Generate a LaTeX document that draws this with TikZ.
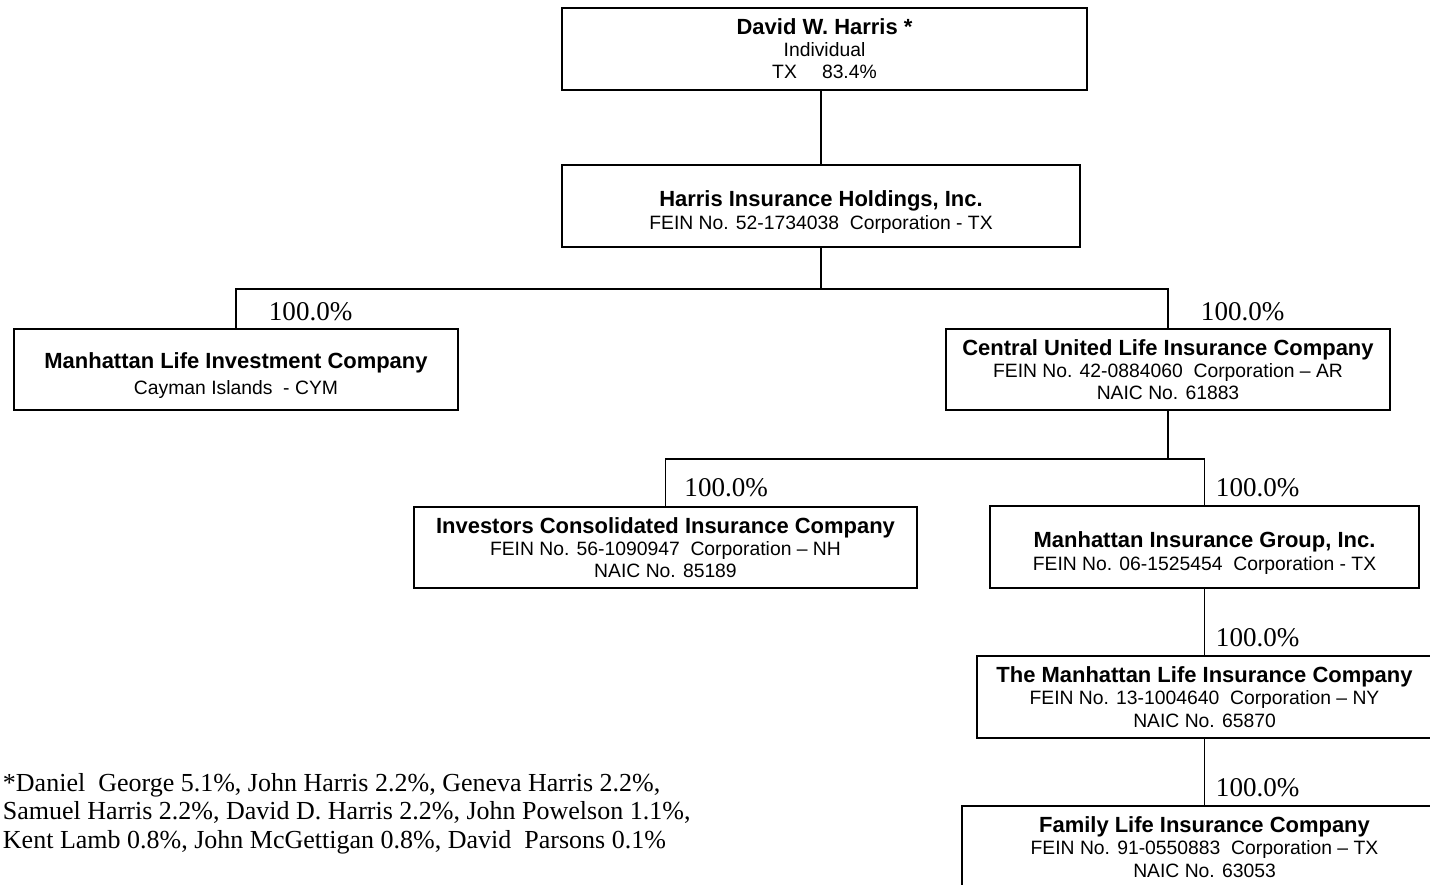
\documentclass[tikz,border=0pt]{standalone}
\usepackage{fontspec}
\setmainfont{Liberation Serif}
\setsansfont{Liberation Sans}
\usetikzlibrary{positioning}
\tikzset{
	co/.style={draw, fill=white, inner sep=0pt, align=center, minimum height=1.63cm,
		font=\sffamily\fontsize{11}{12.6}\selectfont},
	pct/.style={font=\fontsize{15.4}{15.4}\selectfont, inner sep=0pt, anchor=south west},
}
\newcommand{\nm}[1]{{\bfseries\fontsize{12.5}{12.6}\selectfont #1}}
\newcommand{\dn}{\rule{0pt}{16pt}}
\begin{document}
\begin{tikzpicture}[x=0.02cm, y=-0.02cm, line width=1.1pt]
					\useasboundingbox (0,0) rectangle (1430,885);
					\clip (0,0) rectangle (1430,885);
					% companies
					\node[co, minimum width=10.5cm] (david) at (824.5,49) {\nm{David W. Harris *}\\Individual\\TX\hspace{1.3em}83.4\%};
					\node[co, minimum width=10.36cm] (hold) at (821,206) {\dn\nm{Harris Insurance Holdings, Inc.}\\FEIN No. 52-1734038\ \ Corporation - TX};
					\node[co, minimum width=8.88cm] (mlic) at (236,369.5) {\dn\nm{Manhattan Life Investment Company}\\[1.7pt]Cayman Islands\ \ - CYM};
					\node[co, minimum width=8.88cm] (culic) at (1168,369.5) {\nm{Central United Life Insurance Company}\\FEIN No. 42-0884060\ \ Corporation -- AR\\NAIC No. 61883};
					\node[co, minimum width=10.06cm] (icic) at (665.5,547.5) {\nm{Investors Consolidated Insurance Company}\\FEIN No. 56-1090947\ \ Corporation -- NH\\NAIC No. 85189};
					\node[co, minimum width=8.58cm] (mig) at (1204.5,547) {\dn\nm{Manhattan Insurance Group, Inc.}\\FEIN No. 06-1525454\ \ Corporation - TX};
					\node[co, minimum width=9.12cm] (tmlic) at (1204.5,697) {\nm{The Manhattan Life Insurance Company}\\FEIN No. 13-1004640\ \ Corporation -- NY\\NAIC No. 65870};
					\node[co, minimum width=9.72cm] (flic) at (1204.5,847) {\nm{Family Life Insurance Company}\\FEIN No. 91-0550883\ \ Corporation -- TX\\NAIC No. 63053};
					% ownership lines
					\draw (hold.north) -- (hold.north |- david.south);
					\draw (hold.south) -- ++(0,41) coordinate (bus1);
					\draw (bus1) -| (mlic.north);
					\draw (bus1) -| (culic.north);
					\draw (culic.south) -- ++(0,48) coordinate (bus2);
					\draw (bus2) -| (icic.north);
					\draw (bus2) -| (mig.north);
					\draw (mig) -- (tmlic);
					\draw (tmlic) -- (flic);
					% percentages
					\foreach \n/\dx/\dy in {mlic/32/6, culic/32/6, icic/18/8, mig/10.5/7, tmlic/10.5/7, flic/10.5/7}
						\node[pct, shift={(\dx,-\dy)}] at (\n.north) {100.0\%};
					% footnote
					\node[anchor=north west, inner sep=0pt, align=left, font=\fontsize{14.8}{16.4}\selectfont] (note) at (2,772)
						{*Daniel\ \ George 5.1\%, John Harris 2.2\%, Geneva Harris 2.2\%,\\
						Samuel Harris 2.2\%, David D. Harris 2.2\%, John Powelson 1.1\%,\\
						Kent Lamb 0.8\%, John McGettigan 0.8\%, David\ \ Parsons 0.1\%};
\end{tikzpicture}
\end{document}
